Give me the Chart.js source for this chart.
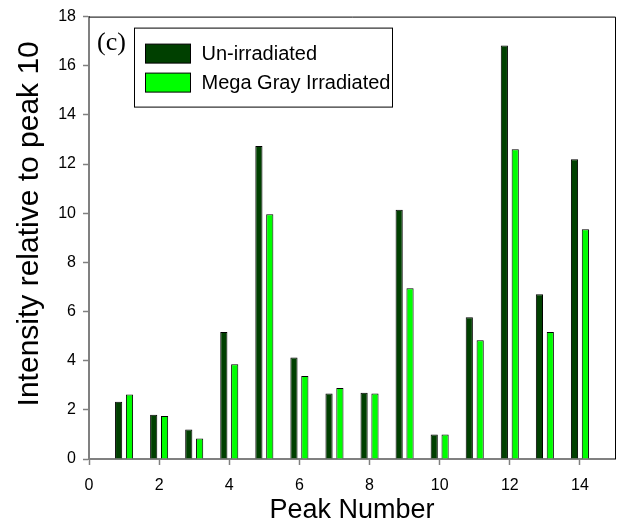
<!DOCTYPE html>
<html>
<head>
<meta charset="utf-8">
<script src="https://cdn.jsdelivr.net/npm/chart.js@4/dist/chart.umd.min.js"></script>
<style>
  html, body { margin: 0; padding: 0; background: #ffffff; }
  canvas { display: block; }
</style>
</head>
<body>
<canvas id="peaks" width="622" height="527"></canvas>
<script>
// Peak intensities, each normalised to peak 10
const peakNumbers = [1, 2, 3, 4, 5, 6, 7, 8, 9, 10, 11, 12, 13, 14];
const unIrradiated = [2.33, 1.80, 1.20, 5.17, 12.74, 4.13, 2.67, 2.70, 10.14, 1.00, 5.77, 16.82, 6.70, 12.20];
const megaGrayIrradiated = [2.62, 1.75, 0.83, 3.86, 9.96, 3.38, 2.89, 2.66, 6.95, 1.00, 4.83, 12.60, 5.17, 9.35];
const seriesLabels = ['Un-irradiated', 'Mega Gray Irradiated'];
const seriesColors = ['#004000', '#00ff00'];
const xTickValues = [0, 2, 4, 6, 8, 10, 12, 14];
const yTickValues = [0, 2, 4, 6, 8, 10, 12, 14, 16, 18];
const xTitle = 'Peak Number';
const yTitle = 'Intensity relative to peak 10';
const panelTag = '(c)';

const AXIS_GRAY = '#808080';
const SANS = "'Liberation Sans', Arial, sans-serif";

function points(values) {
  return peakNumbers.map((p, i) => ({ x: p, y: values[i] }));
}

// Black frame on the top and right edges of the plot
const framePlugin = {
  id: 'frame',
  afterDraw(chart) {
    const { ctx, chartArea: a } = chart;
    ctx.save();
    ctx.strokeStyle = '#000000';
    ctx.lineWidth = 1;
    ctx.beginPath();
    ctx.moveTo(a.left, a.top + 0.5);
    ctx.lineTo(a.right + 0.5, a.top + 0.5);
    ctx.lineTo(a.right + 0.5, a.bottom);
    ctx.stroke();
    ctx.restore();
  }
};

// Vertical axis title, set slightly above the plot's middle
const yTitlePlugin = {
  id: 'yTitle',
  afterDraw(chart) {
    const { ctx, chartArea: a } = chart;
    ctx.save();
    ctx.translate(30, (a.top + a.bottom) / 2 - 14);
    ctx.rotate(-Math.PI / 2);
    ctx.font = '30px ' + SANS;
    ctx.fillStyle = '#000000';
    ctx.textAlign = 'center';
    ctx.textBaseline = 'middle';
    ctx.fillText(yTitle, 0, 0);
    ctx.restore();
  }
};

// Panel tag and boxed legend inside the plot
const legendPlugin = {
  id: 'boxLegend',
  afterDraw(chart) {
    const { ctx, chartArea: a } = chart;
    ctx.save();
    ctx.fillStyle = '#000000';
    ctx.font = "26px 'Liberation Serif', 'Times New Roman', serif";
    ctx.textBaseline = 'alphabetic';
    ctx.textAlign = 'left';
    ctx.fillText(panelTag, a.left + 8, a.top + 33);

    const bx = a.left + 45.5, by = a.top + 11.5, bw = 258, bh = 79;
    ctx.fillStyle = '#ffffff';
    ctx.fillRect(bx, by, bw, bh);
    ctx.strokeStyle = '#000000';
    ctx.lineWidth = 1;
    ctx.strokeRect(bx, by, bw, bh);

    ctx.font = '20px ' + SANS;
    ctx.textBaseline = 'middle';
    chart.data.datasets.forEach((ds, i) => {
      const sy = by + 16 + i * 29;
      ctx.fillStyle = ds.backgroundColor;
      ctx.fillRect(bx + 11, sy, 45, 19);
      ctx.strokeRect(bx + 11, sy, 45, 19);
      ctx.fillStyle = '#000000';
      ctx.fillText(ds.label, bx + 67, sy + 10);
    });
    ctx.restore();
  }
};

new Chart(document.getElementById('peaks'), {
  type: 'bar',
  data: {
    datasets: [
      {
        label: seriesLabels[0],
        data: points(unIrradiated),
        backgroundColor: seriesColors[0],
        borderColor: '#000000',
        borderWidth: 1,
        categoryPercentage: 0.62,
        barPercentage: 0.66
      },
      {
        label: seriesLabels[1],
        data: points(megaGrayIrradiated),
        backgroundColor: seriesColors[1],
        borderColor: '#000000',
        borderWidth: 1,
        categoryPercentage: 0.62,
        barPercentage: 0.66
      }
    ]
  },
  options: {
    responsive: false,
    animation: false,
    devicePixelRatio: 1,
    layout: { padding: { top: 13, right: 7, left: 0, bottom: 0 } },
    plugins: {
      legend: { display: false },
      tooltip: { enabled: false }
    },
    scales: {
      x: {
        type: 'linear',
        min: 0,
        max: 15,
        offset: false,
        afterFit(s) { s.height = 68; },
        afterBuildTicks(s) { s.ticks = xTickValues.map(v => ({ value: v })); },
        ticks: {
          color: '#000000',
          font: { family: SANS, size: 16 },
          padding: 11,
          maxRotation: 0,
          includeBounds: false
        },
        grid: {
          display: true,
          offset: false,
          drawOnChartArea: false,
          drawTicks: true,
          tickLength: 6,
          color: AXIS_GRAY,
          tickWidth: 1.5
        },
        border: { display: true, color: AXIS_GRAY, width: 2 },
        title: {
          display: true,
          text: xTitle,
          color: '#000000',
          font: { family: SANS, size: 27 },
          padding: { top: 0, bottom: 0 }
        }
      },
      y: {
        type: 'linear',
        min: 0,
        max: 18,
        afterFit(s) { s.width = 89; },
        afterBuildTicks(s) { s.ticks = yTickValues.map(v => ({ value: v })); },
        ticks: {
          color: '#000000',
          font: { family: SANS, size: 16 },
          padding: 7
        },
        grid: {
          display: true,
          drawOnChartArea: false,
          drawTicks: true,
          tickLength: 6,
          color: AXIS_GRAY,
          tickWidth: 1.5
        },
        border: { display: true, color: AXIS_GRAY, width: 2 }
      }
    }
  },
  plugins: [framePlugin, yTitlePlugin, legendPlugin]
});
</script>
</body>
</html>
